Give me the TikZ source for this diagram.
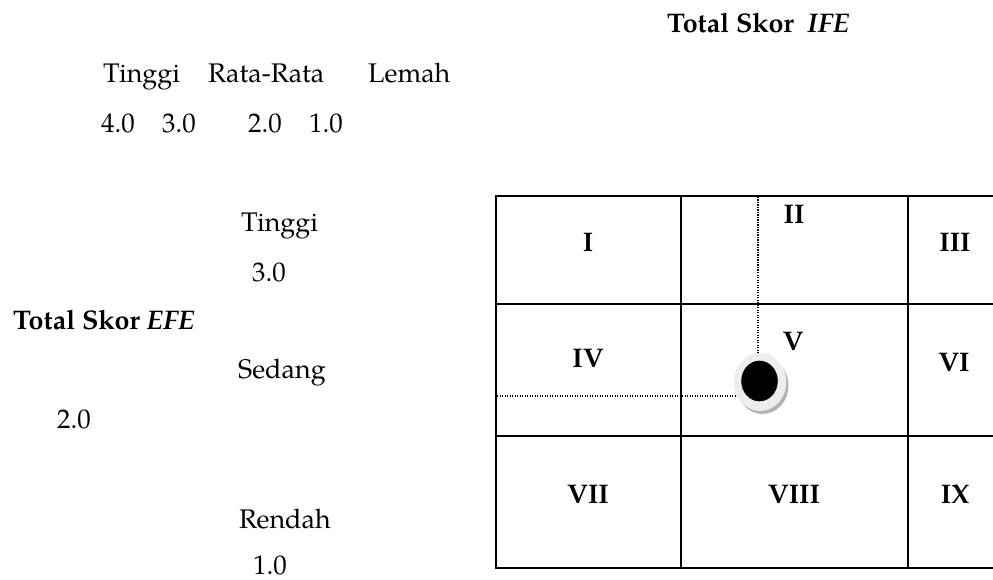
\documentclass[tikz,border=0pt]{standalone}
\usepackage{fontspec}
\setmainfont{TeX Gyre Pagella}
\usetikzlibrary{shapes.geometric}
\begin{document}
\begin{tikzpicture}[x=1bp,y=-1bp,
  txt/.style={anchor=base west,inner sep=0pt,font=\fontsize{27}{31}\selectfont},
  btxt/.style={anchor=base west,inner sep=0pt,font=\fontsize{27}{31}\selectfont\bfseries},
  cell/.style={anchor=center,inner sep=0pt,font=\fontsize{27}{31}\selectfont\bfseries},
  gridline/.style={line width=2bp,line cap=rect},
  dotline/.style={line width=1.3bp,dash pattern=on 1.3bp off 1.2bp}]
\useasboundingbox (0,0) rectangle (993,580);
% axis titles
\node[btxt] (ife) at (667,33) {Total Skor\ \ \textit{IFE}};
\node[btxt] (efe) at (13,329) {Total Skor \textit{EFE}};
% top scale
\node[txt] (t1) at (103,83) {Tinggi};
\node[txt] (t2) at (208,83) {Rata-Rata};
\node[txt] (t3) at (368,83) {Lemah};
\node[txt] (n4) at (101,133) {4.0};
\node[txt] (n3) at (162,133) {3.0};
\node[txt] (n2) at (248,133) {2.0};
\node[txt] (n1) at (309,133) {1.0};
% left scale
\node[txt] (l1) at (241,232) {Tinggi};
\node[txt] (l3) at (252,282) {3.0};
\node[txt] (l2) at (238,378) {Sedang};
\node[txt] (l20) at (57,428) {2.0};
\node[txt] (l0) at (239,528) {Rendah};
\node[txt] (l10) at (253,574) {1.0};
% grid
\draw[gridline] (993,196) -- (496,196) -- (496,568) -- (993,568);
\draw[gridline] (496,304) -- (993,304);
\draw[gridline] (496,436) -- (993,436);
\draw[gridline] (681,196) -- (681,568);
\draw[gridline] (908,196) -- (908,568);
% cell labels
\node[cell] (c1) at (588,242) {I};
\node[cell] (c2) at (794,214) {II};
\node[cell] (c3) at (955,242) {III};
\node[cell] (c4) at (588,358) {IV};
\node[cell] (c5) at (793,341) {V};
\node[cell] (c6) at (954,362) {VI};
\node[cell] (c7) at (588,494) {VII};
\node[cell] (c8) at (794,494) {VIII};
\node[cell] (c9) at (955,494) {IX};
% position point
\fill[black!30] (762.5,385.5) ellipse [x radius=26bp, y radius=28.5bp];
\node[ellipse,fill=black!7,minimum width=52.6bp,minimum height=58bp,inner sep=0pt] (dot) at (760,382) {};
\fill[black] (759.5,381) ellipse [x radius=18.3bp, y radius=20.3bp];
% dotted guides
\coordinate (vtop) at (758,197);
\coordinate (hleft) at (497,396);
\coordinate (hend) at (737,396);
\draw[dotline] (vtop) -- (vtop |- dot.north);
\draw[dotline] (hleft) -- (hend);
\end{tikzpicture}
\end{document}
